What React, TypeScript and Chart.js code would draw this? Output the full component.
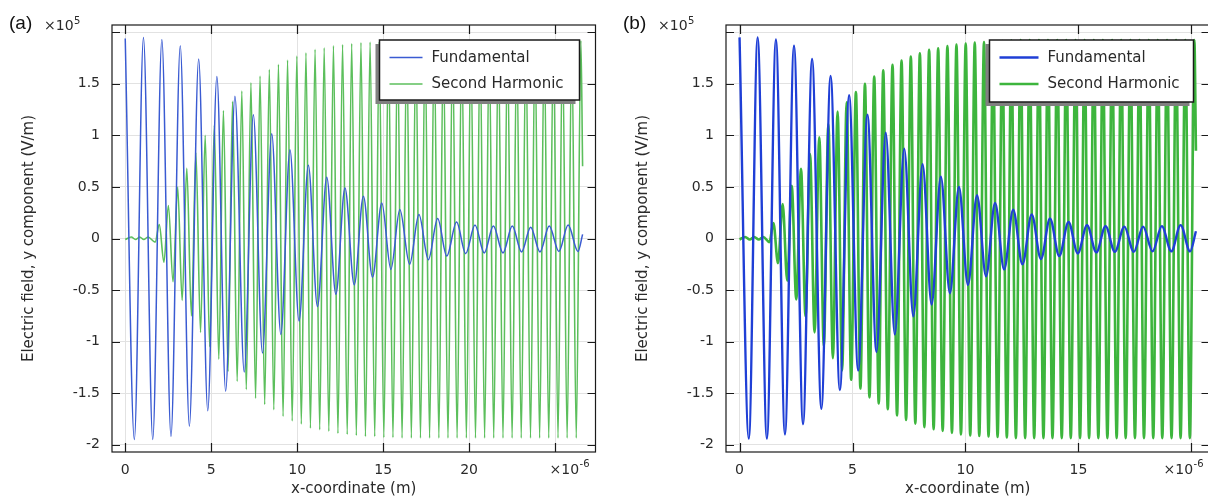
import React, { useEffect, useRef } from 'react';
import { Chart, registerables } from 'chart.js';

Chart.register(...registerables);

// ---------- data (values in units of 1e5 V/m, x in units of 1e-6 m) ----------
const SERIES_NAMES = ['Fundamental', 'Second Harmonic'];
const Y_TICKS = [-2, -1.5, -1, -0.5, 0, 0.5, 1, 1.5, 2];
const X_TICKS_A = [0, 5, 10, 15, 20, 25];
const X_TICKS_B = [0, 5, 10, 15, 20];

// Panel (a) – fundamental: extrema
const FUND_A_X = [0, 0.53, 1.06, 1.6, 2.13, 2.66, 3.2, 3.73, 4.27, 4.8, 5.33, 5.84, 6.38, 6.92, 7.45, 7.98, 8.52, 9.05, 9.58, 10.11, 10.65, 11.18, 11.72, 12.25, 12.78, 13.32, 13.85, 14.38, 14.92, 15.45, 15.97, 16.54, 17.08, 17.63, 18.17, 18.7, 19.27, 19.8, 20.34, 20.88, 21.41, 21.97, 22.51, 23.05, 23.58, 24.12, 24.66, 25.22, 25.76, 26.33, 26.6];
const FUND_A_Y = [1.94, -1.95, 1.95, -1.95, 1.93, -1.92, 1.87, -1.82, 1.74, -1.67, 1.57, -1.48, 1.38, -1.295, 1.2, -1.11, 1.015, -0.93, 0.86, -0.8, 0.71, -0.66, 0.595, -0.54, 0.49, -0.45, 0.41, -0.375, 0.345, -0.3, 0.28, -0.25, 0.233, -0.205, 0.194, -0.17, 0.16, -0.146, 0.13, -0.14, 0.12, -0.14, 0.12, -0.13, 0.11, -0.13, 0.12, -0.125, 0.13, -0.125, 0.04];

// Panel (a) – second harmonic
const SH_A_X = [0, 0.35, 0.6, 0.84, 1.08, 1.32, 1.74,
  1.98, 2.25, 2.51, 2.78, 3.05, 3.31, 3.58, 3.85, 4.11, 4.38, 4.65, 4.91, 5.18, 5.44, 5.71, 5.98, 6.24, 6.51, 6.78, 7.04,
  7.31, 7.58, 7.84, 8.11, 8.38, 8.64, 8.91, 9.18, 9.44, 9.71, 9.98, 10.24, 10.51, 10.77, 11.04, 11.31, 11.57, 11.84,
  12.11, 12.37, 12.64, 12.91, 13.17, 13.44, 13.71, 13.97, 14.24, 14.51, 14.77, 15.04, 15.31, 15.57, 15.84, 16.1,
  16.37, 16.64, 16.9, 17.17, 17.44, 17.7, 17.97, 18.24, 18.5, 18.77, 19.04, 19.3, 19.57, 19.84, 20.1, 20.37, 20.64,
  20.9, 21.17, 21.43, 21.7, 21.97, 22.23, 22.5, 22.77, 23.03, 23.3, 23.57, 23.83, 24.1, 24.37, 24.63, 24.9, 25.17,
  25.43, 25.7, 25.97, 26.23, 26.5, 26.6];
const SH_A_Y = [-0.01, 0.015, -0.01, 0.015, -0.01, 0.015, -0.035,
  0.135, -0.23, 0.32, -0.42, 0.5, -0.6, 0.68, -0.75, 0.83, -0.91, 1.0, -1.05, 1.1, -1.17, 1.24, -1.29, 1.33, -1.385, 1.43, -1.465,
  1.51, -1.55, 1.575, -1.61, 1.64, -1.66, 1.69, -1.725, 1.73, -1.77, 1.77, -1.8, 1.8, -1.84, 1.835, -1.855, 1.85, -1.87,
  1.87, -1.89, 1.88, -1.9, 1.89, -1.91, 1.9, -1.92, 1.905, -1.92, 1.91, -1.93, 1.915, -1.93, 1.92, -1.935,
  1.92, -1.935, 1.92, -1.935, 1.92, -1.935, 1.92, -1.935, 1.92, -1.935, 1.92, -1.935, 1.92, -1.935, 1.92, -1.935, 1.92,
  -1.935, 1.92, -1.935, 1.92, -1.935, 1.92, -1.935, 1.92, -1.935, 1.92, -1.935, 1.92, -1.935, 1.92, -1.935, 1.92, -1.935,
  1.92, -1.935, 1.92, -1.935, 1.92, 0.7];

// Panel (b) – fundamental
const FUND_B_X = [0, 0.41, 0.8, 1.21, 1.61, 2.01, 2.41, 2.81, 3.21, 3.62, 4.03, 4.44, 4.85, 5.25, 5.66, 6.06, 6.47, 6.87, 7.29, 7.69, 8.1, 8.5, 8.91, 9.31, 9.71, 10.11, 10.51, 10.91, 11.31, 11.71, 12.11, 12.52, 12.93, 13.34, 13.74, 14.15, 14.56, 14.97, 15.38, 15.79, 16.2, 16.61, 17.03, 17.45, 17.86, 18.28, 18.69, 19.11, 19.52, 19.94, 20.2];
const FUND_B_Y = [1.95, -1.94, 1.95, -1.94, 1.93, -1.9, 1.87, -1.8, 1.74, -1.65, 1.575, -1.47, 1.39, -1.28, 1.2, -1.1, 1.025, -0.93, 0.87, -0.755, 0.72, -0.64, 0.6, -0.53, 0.5, -0.45, 0.42, -0.366, 0.345, -0.3, 0.28, -0.25, 0.233, -0.2, 0.194, -0.17, 0.16, -0.145, 0.13, -0.135, 0.12, -0.13, 0.115, -0.13, 0.115, -0.125, 0.12, -0.125, 0.13, -0.125, 0.07];

// Panel (b) – second harmonic
const SH_B_X = [0, 0.25, 0.45, 0.65, 0.85, 1.05, 1.32,
  1.5, 1.7, 1.91, 2.11, 2.31, 2.51, 2.72, 2.92, 3.12, 3.32, 3.53, 3.73, 3.93, 4.13, 4.34, 4.54, 4.74, 4.94, 5.15, 5.35,
  5.55, 5.75, 5.96, 6.16, 6.36, 6.56, 6.77, 6.97, 7.17, 7.37, 7.58, 7.78, 7.98, 8.18, 8.39, 8.59, 8.79, 8.99,
  9.2, 9.4, 9.6, 9.8, 10.01, 10.21, 10.41, 10.61, 10.82, 11.02, 11.22, 11.42, 11.63, 11.83, 12.03, 12.23,
  12.44, 12.64, 12.84, 13.04, 13.25, 13.45, 13.65, 13.85, 14.06, 14.26, 14.46, 14.66, 14.87, 15.07, 15.27, 15.47, 15.68,
  15.88, 16.08, 16.28, 16.49, 16.69, 16.89, 17.09, 17.3, 17.5, 17.7, 17.9, 18.11, 18.31, 18.51, 18.71, 18.92,
  19.12, 19.32, 19.52, 19.73, 19.93, 20.13, 20.2];
const SH_B_Y = [-0.01, 0.015, -0.01, 0.015, -0.01, 0.015, -0.035,
  0.15, -0.24, 0.335, -0.41, 0.51, -0.59, 0.675, -0.755, 0.82, -0.91, 0.98, -1.045, 1.11, -1.16, 1.23, -1.28, 1.32, -1.37, 1.42, -1.455,
  1.5, -1.54, 1.57, -1.6, 1.63, -1.655, 1.685, -1.715, 1.725, -1.76, 1.765, -1.795, 1.795, -1.83, 1.83, -1.85, 1.845, -1.865,
  1.865, -1.885, 1.88, -1.9, 1.89, -1.91, 1.9, -1.915, 1.905, -1.92, 1.91, -1.925, 1.915, -1.93, 1.92, -1.935,
  1.925, -1.935, 1.925, -1.935, 1.925, -1.935, 1.925, -1.935, 1.925, -1.935, 1.925, -1.935, 1.925, -1.935, 1.925, -1.935, 1.925,
  -1.935, 1.925, -1.935, 1.925, -1.935, 1.925, -1.935, 1.925, -1.935, 1.925, -1.935, 1.925, -1.935, 1.925, -1.935, 1.925, -1.935,
  1.925, -1.935, 1.925, -1.935, 1.925, 0.85];

// ---------- styling ----------
const FONT = "'DejaVu Sans', sans-serif";
const TEXT = '#2a2a2a';

type Panel = {
  tag: string;
  label: string;
  xMin: number;
  xMax: number;
  xTicks: number[];
  fx: number[]; fy: number[]; sx: number[]; sy: number[];
  fundColor: string; shColor: string; fundWidth: number; shWidth: number;
  legW: number; legH: number; legLine: number;
};

const PANELS: Panel[] = [
  {
    tag: 'a', label: '(a)', xMin: -0.77, xMax: 27.35, xTicks: X_TICKS_A,
    fx: FUND_A_X, fy: FUND_A_Y, sx: SH_A_X, sy: SH_A_Y,
    fundColor: '#3a5bd2', shColor: '#5cbf5c', fundWidth: 1.5, shWidth: 1.6,
    legW: 200, legH: 60, legLine: 33,
  },
  {
    tag: 'b', label: '(b)', xMin: -0.6, xMax: 20.8, xTicks: X_TICKS_B,
    fx: FUND_B_X, fy: FUND_B_Y, sx: SH_B_X, sy: SH_B_Y,
    fundColor: '#1f3fd6', shColor: '#3db53d', fundWidth: 2.4, shWidth: 2.6,
    legW: 204, legH: 62, legLine: 39,
  },
];

const toPoints = (xs: number[], ys: number[]) => xs.map((x, i) => ({ x, y: ys[i] }));

function decorPlugin(p: Panel) {
  return {
    id: 'decor_' + p.tag,
    afterDraw(chart: any) {
      const { ctx, chartArea: ca, scales } = chart;
      const xs = scales.x;
      const ys = scales.y;
      ctx.save();
      // frame
      ctx.strokeStyle = '#1a1a1a';
      ctx.lineWidth = 1.2;
      ctx.strokeRect(ca.left, ca.top, ca.right - ca.left, ca.bottom - ca.top);
      // inward tick marks on all four sides
      ctx.beginPath();
      for (const v of p.xTicks) {
        const px = Math.round(xs.getPixelForValue(v)) + 0.5;
        ctx.moveTo(px, ca.bottom); ctx.lineTo(px, ca.bottom - 9);
        ctx.moveTo(px, ca.top); ctx.lineTo(px, ca.top + 9);
      }
      for (const v of Y_TICKS) {
        const py = Math.round(ys.getPixelForValue(v)) + 0.5;
        ctx.moveTo(ca.left, py); ctx.lineTo(ca.left + 8, py);
        ctx.moveTo(ca.right, py); ctx.lineTo(ca.right - 8, py);
      }
      ctx.stroke();

      // multipliers
      ctx.fillStyle = TEXT;
      ctx.textBaseline = 'alphabetic';
      ctx.textAlign = 'left';
      ctx.font = `14px ${FONT}`;
      const yx = ca.left - 68;
      const yb = ca.top + 5;
      ctx.fillText('×10', yx, yb);
      let w = ctx.measureText('×10').width;
      ctx.font = `10px ${FONT}`;
      ctx.fillText('5', yx + w + 0.5, yb - 6);

      ctx.font = `14px ${FONT}`;
      const xx = ca.right - 46;
      const xb = ca.bottom + 22;
      ctx.fillText('×10', xx, xb);
      w = ctx.measureText('×10').width;
      ctx.font = `10px ${FONT}`;
      ctx.fillText('-6', xx + w + 0.5, xb - 7);

      // panel label
      ctx.font = `19px 'Liberation Sans', Arial, sans-serif`;
      ctx.fillStyle = '#111';
      ctx.fillText(p.label, 9, 29);

      // legend
      const bx = ca.right - 16 - p.legW;
      const by = ca.top + 15;
      ctx.fillStyle = '#808080';
      ctx.fillRect(bx - 4, by + 4, p.legW, p.legH);
      ctx.fillStyle = '#ffffff';
      ctx.fillRect(bx, by, p.legW, p.legH);
      ctx.strokeStyle = '#1a1a1a';
      ctx.lineWidth = 1.5;
      ctx.strokeRect(bx, by, p.legW, p.legH);
      const rows = [
        { name: SERIES_NAMES[0], color: p.fundColor, width: p.fundWidth, dy: 17.5 },
        { name: SERIES_NAMES[1], color: p.shColor, width: p.shWidth, dy: 44 },
      ];
      ctx.font = `15px ${FONT}`;
      ctx.textBaseline = 'middle';
      for (const r of rows) {
        const ly = by + r.dy;
        ctx.strokeStyle = r.color;
        ctx.lineWidth = r.width;
        ctx.beginPath();
        ctx.moveTo(bx + 10, ly);
        ctx.lineTo(bx + 10 + p.legLine, ly);
        ctx.stroke();
        ctx.fillStyle = TEXT;
        ctx.fillText(r.name, bx + 10 + p.legLine + 9, ly + 0.5);
      }
      ctx.restore();
    },
  };
}

function makeConfig(p: Panel): any {
  const lastX = p.xTicks[p.xTicks.length - 1];
  return {
    type: 'line',
    data: {
      datasets: [
        {
          label: SERIES_NAMES[0],
          data: toPoints(p.fx, p.fy),
          borderColor: p.fundColor,
          borderWidth: p.fundWidth,
          pointRadius: 0,
          fill: false,
          cubicInterpolationMode: 'monotone',
        },
        {
          label: SERIES_NAMES[1],
          data: toPoints(p.sx, p.sy),
          borderColor: p.shColor,
          borderWidth: p.shWidth,
          pointRadius: 0,
          fill: false,
          cubicInterpolationMode: 'monotone',
        },
      ],
    },
    options: {
      animation: false,
      responsive: false,
      devicePixelRatio: 1,
      events: [],
      layout: { padding: { left: 0, right: 14.5, top: 25, bottom: 0 } },
      plugins: { legend: { display: false }, tooltip: { enabled: false }, title: { display: false } },
      scales: {
        x: {
          type: 'linear',
          min: p.xMin,
          max: p.xMax,
          afterBuildTicks: (s: any) => { s.ticks = p.xTicks.map((v) => ({ value: v })); },
          afterFit: (s: any) => { s.height = 46; },
          grid: { color: '#e2e2e2', drawTicks: false, lineWidth: 1 },
          border: { display: false },
          ticks: {
            padding: 10,
            maxRotation: 0,
            autoSkip: false,
            color: TEXT,
            font: { family: FONT, size: 14 },
            callback: (v: number) => (v === lastX ? '' : String(v)),
          },
          title: {
            display: true,
            text: 'x-coordinate (m)',
            color: TEXT,
            font: { family: FONT, size: 15 },
            padding: { top: 0, bottom: 0 },
          },
        },
        y: {
          type: 'linear',
          min: -2.07,
          max: 2.07,
          afterBuildTicks: (s: any) => { s.ticks = Y_TICKS.map((v) => ({ value: v })); },
          afterFit: (s: any) => { s.width = 112; },
          grid: { color: '#e2e2e2', drawTicks: false, lineWidth: 1 },
          border: { display: false },
          ticks: {
            padding: 12,
            autoSkip: false,
            color: TEXT,
            font: { family: FONT, size: 14 },
            callback: (v: number) => (v === 2 ? '' : String(v)),
          },
          title: {
            display: true,
            text: 'Electric field, y component (V/m)',
            color: TEXT,
            font: { family: FONT, size: 15 },
            padding: { top: 20, bottom: 0 },
          },
        },
      },
    },
    plugins: [decorPlugin(p)],
  };
}

export default function App() {
  const refA = useRef<HTMLCanvasElement | null>(null);
  const refB = useRef<HTMLCanvasElement | null>(null);

  useEffect(() => {
    const charts: Chart[] = [];
    [refA.current, refB.current].forEach((cv, i) => {
      if (cv) charts.push(new Chart(cv, makeConfig(PANELS[i])));
    });
    return () => charts.forEach((c) => c.destroy());
  }, []);

  const canvasStyle = (left: number): React.CSSProperties => ({
    position: 'absolute', left, top: 0, width: 610, height: 498, display: 'block',
  });

  return (
    <div style={{ position: 'absolute', left: 0, top: 0, width: 1208, height: 498, overflow: 'hidden', background: '#fff' }}>
      <canvas ref={refA} width={610} height={498} style={canvasStyle(0)} />
      <canvas ref={refB} width={610} height={498} style={canvasStyle(614)} />
    </div>
  );
}
